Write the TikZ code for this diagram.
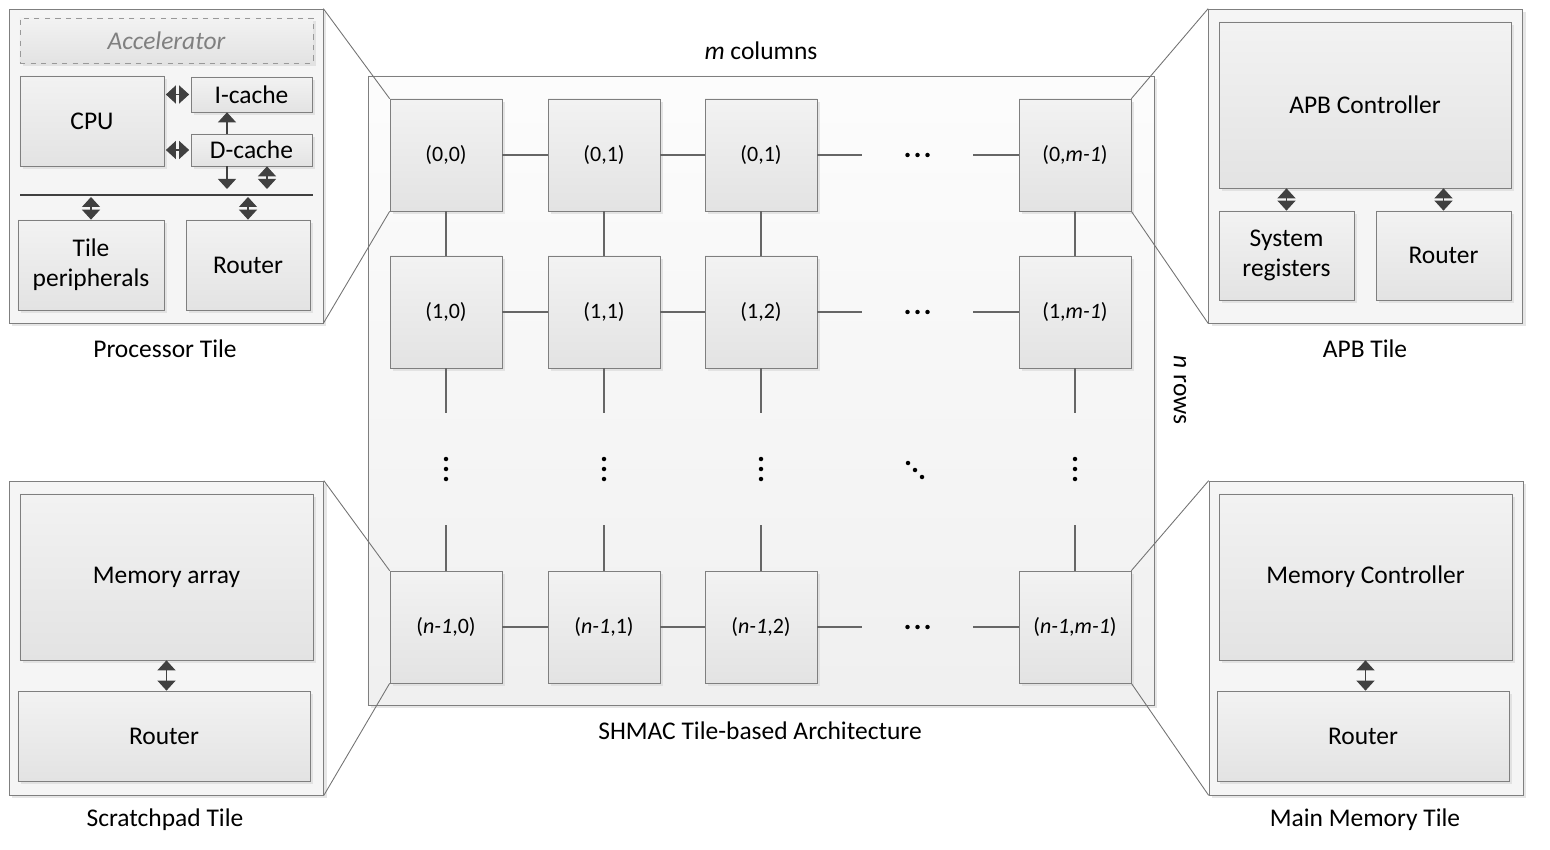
\documentclass[tikz,border=0pt]{standalone}
\usepackage{fontspec}
\setmainfont{Carlito}
\usetikzlibrary{arrows.meta,shadows}
\definecolor{edge}{HTML}{7F7F7F}
\definecolor{tipgray}{HTML}{404040}
\begin{document}
\begin{tikzpicture}[x=0.2mm, y=-0.2mm,
  font=\fontsize{14.5}{17}\selectfont,
  >={Triangle[width=3.6mm,length=2mm]},
  shade/.style={drop shadow={shadow xshift=0.6mm, shadow yshift=-0.6mm, fill=black!14, opacity=0.7}},
  part/.style={draw=edge, top color=black!5, bottom color=black!11, inner sep=0pt, align=center, shade},
  tile/.style={part, minimum size=22.4mm, font=\fontsize{12.5}{14}\selectfont},
  tilebox/.style={draw=edge, fill=black!4, minimum size=62.8mm, shade},
  gap/.style={inner sep=0pt, minimum width=22.2mm, minimum height=1mm},
  vgap/.style={inner sep=0pt, minimum width=1mm, minimum height=22.4mm},
  link/.style={draw=black!60, line width=0.6pt},
  proj/.style={draw=black!55, line width=0.5pt},
  oneway/.style={draw=tipgray, fill=tipgray, line width=0.6pt, ->},
  twoway/.style={draw=tipgray, fill=tipgray, line width=0.6pt, <->}]
  \useasboundingbox (0,0) rectangle (1550,850);

  % tile array
  \node[draw=edge, top color=black!1, bottom color=black!6, minimum width=157.2mm,
    minimum height=125.8mm, shade] (arch) at (761,390.5) {};
  \node (cols) at (761,51) {\textit{m} columns};
  \node[rotate=-90] (rows) at (1180,390) {\textit{n} rows};
  \node (archname) at (760,731) {SHMAC Tile-based Architecture};

  \node[tile] (t00) at (446,155) {(0,0)};
  \node[tile] (t01) at (604,155) {(0,1)};
  \node[tile] (t02) at (761,155) {(0,1)};
  \node[tile] (t03) at (1075,155) {(0,\textit{m-1})};
  \node[tile] (t10) at (446,312) {(1,0)};
  \node[tile] (t11) at (604,312) {(1,1)};
  \node[tile] (t12) at (761,312) {(1,2)};
  \node[tile] (t13) at (1075,312) {(1,\textit{m-1})};
  \node[tile] (t20) at (446,627) {(\textit{n-1},0)};
  \node[tile] (t21) at (604,627) {(\textit{n-1},1)};
  \node[tile] (t22) at (761,627) {(\textit{n-1},2)};
  \node[tile] (t23) at (1075,627) {(\textit{n-1},\textit{m-1})};

  \node[gap] (hd0) at (917.5,155) {};
  \node[gap] (hd1) at (917.5,312) {};
  \node[gap] (hd2) at (917.5,627) {};
  \node[vgap] (vd0) at (446,469) {};
  \node[vgap] (vd1) at (604,469) {};
  \node[vgap] (vd2) at (761,469) {};
  \node[vgap] (vd3) at (1075,469) {};
  \coordinate (dd) at (915,470);

  \foreach \r in {0,1,2} {
    \draw[link] (t\r0) -- (t\r1) (t\r1) -- (t\r2) (t\r2) -- (hd\r) (hd\r) -- (t\r3);
    \fill ([xshift=-2mm]hd\r) circle (0.45mm) ++(10,0) circle (0.45mm) ++(10,0) circle (0.45mm);
  }
  \foreach \c in {0,1,2,3} {
    \draw[link] (t0\c) -- (t1\c) (t1\c) -- (vd\c) (vd\c) -- (t2\c);
    \fill ([yshift=2mm]vd\c) circle (0.45mm) ++(0,10) circle (0.45mm) ++(0,10) circle (0.45mm);
  }
  \fill ([shift={(-7,-7)}]dd) circle (0.45mm) ++(7,7) circle (0.45mm) ++(7,7) circle (0.45mm);

  % processor tile
  \node[tilebox] (proc) at (166,166) {};
  \node (procname) at (165,349) {Processor Tile};
  \node[part, dashed, draw=black!40, text=black!50, font=\fontsize{14.5}{17}\selectfont\itshape,
    minimum width=58.6mm, minimum height=9mm] (accel) at (166.5,40.5) {Accelerator};
  \node[part, minimum width=28.8mm, minimum height=18mm] (cpu) at (92,121) {CPU};
  \node[part, minimum width=24.2mm, minimum height=7mm] (icache) at (251.5,94.5) {I-cache};
  \node[part, minimum width=24.2mm, minimum height=6.4mm] (dcache) at (251.5,150) {D-cache};
  \node[part, minimum width=29.2mm, minimum height=18mm] (periph) at (91,265) {Tile\\peripherals};
  \node[part, minimum width=24.8mm, minimum height=18mm] (prouter) at (248,265) {Router};
  \coordinate (bus) at (20,195);
  \coordinate (busend) at (313,195);
  \coordinate (ddown) at (227,189);
  \coordinate (dboth) at (267,189);
  \draw[draw=tipgray, line width=0.6pt] (bus) -- (busend);
  \draw[twoway, shorten <=0.3mm, shorten >=0.3mm] (cpu.east |- icache.west) -- (icache.west);
  \draw[twoway, shorten <=0.3mm, shorten >=0.3mm] (cpu.east |- dcache.west) -- (dcache.west);
  \draw[oneway] (ddown |- dcache.north) -- (ddown |- icache.south);
  \draw[oneway] (ddown |- dcache.south) -- (ddown);
  \draw[twoway] (dboth |- dcache.south) -- (dboth);
  \draw[twoway, shorten <=0.4mm] (periph.north |- bus) -- (periph.north);
  \draw[twoway, shorten <=0.4mm] (prouter.north |- bus) -- (prouter.north);
  \draw[proj] (proc.north east) -- (t00.north west) (proc.south east) -- (t00.south west);

  % APB tile
  \node[tilebox] (apb) at (1365.5,166) {};
  \node (apbname) at (1365,349) {APB Tile};
  \node[part, minimum width=58.4mm, minimum height=33.2mm] (apbctrl) at (1365,105) {APB Controller};
  \node[part, minimum width=27mm, minimum height=17.8mm] (sysreg) at (1286.5,255.5) {System\\registers};
  \node[part, minimum width=27mm, minimum height=17.8mm] (arouter) at (1443.5,255.5) {Router};
  \draw[twoway] (sysreg.north |- apbctrl.south) -- (sysreg.north);
  \draw[twoway] (arouter.north |- apbctrl.south) -- (arouter.north);
  \draw[proj] (apb.north west) -- (t03.north east) (apb.south west) -- (t03.south east);

  % scratchpad tile
  \node[tilebox] (spad) at (166.5,638) {};
  \node (spadname) at (165,820) {Scratchpad Tile};
  \node[part, minimum width=58.6mm, minimum height=33.2mm] (memarr) at (166.5,577) {Memory array};
  \node[part, minimum width=58.4mm, minimum height=18mm] (srouter) at (164,736) {Router};
  \draw[twoway] (memarr.south) -- (memarr.south |- srouter.north);
  \draw[proj] (spad.north east) -- (t20.north west) (spad.south east) -- (t20.south west);

  % main memory tile
  \node[tilebox] (mmem) at (1366,638) {};
  \node (mmemname) at (1365,820) {Main Memory Tile};
  \node[part, minimum width=58.6mm, minimum height=33.2mm] (memctrl) at (1365.5,577) {Memory Controller};
  \node[part, minimum width=58.4mm, minimum height=18mm] (mrouter) at (1363,736) {Router};
  \draw[twoway] (memctrl.south) -- (memctrl.south |- mrouter.north);
  \draw[proj] (mmem.north west) -- (t23.north east) (mmem.south west) -- (t23.south east);
\end{tikzpicture}
\end{document}
